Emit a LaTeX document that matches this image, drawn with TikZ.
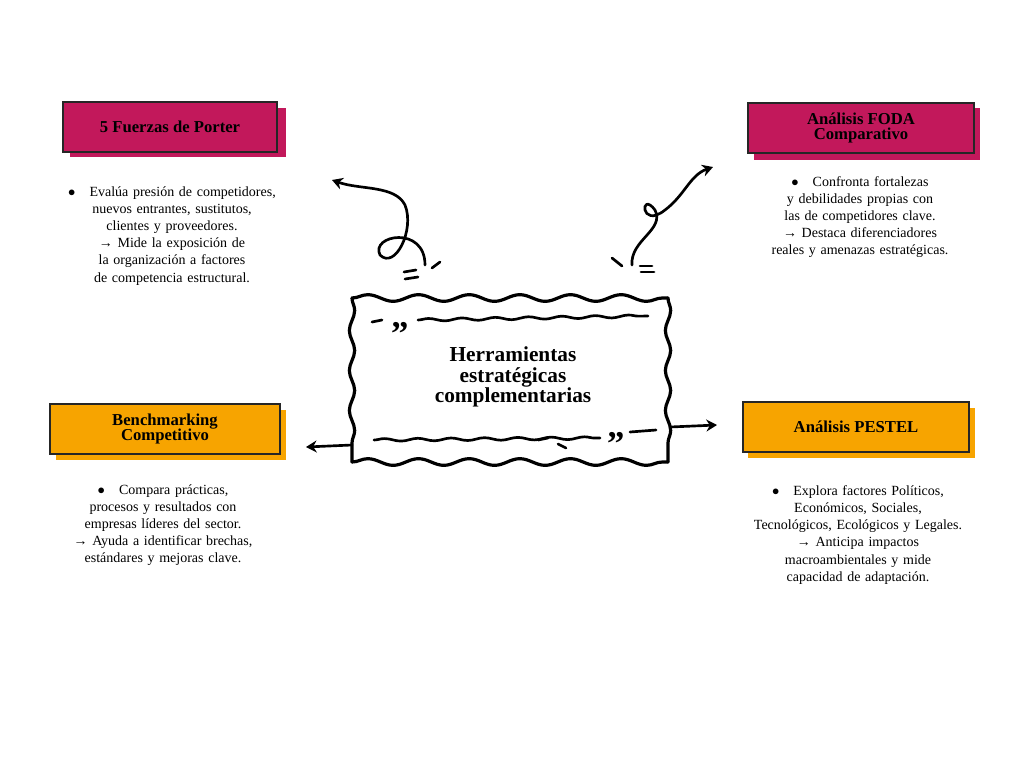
\documentclass[tikz,border=0pt]{standalone}
\usepackage{fontspec}
\setmainfont{Liberation Serif}
\usetikzlibrary{arrows.meta,decorations.pathmorphing}
\definecolor{crim}{HTML}{C2185B}
\definecolor{orng}{HTML}{F7A400}
\hyphenpenalty=10000
\exhyphenpenalty=10000
\tikzset{
 x=0.75pt,y=-0.75pt,
 lab/.style={draw=black!85,line width=1.6pt,minimum width=#1,minimum height=38pt,align=center,font=\fontsize{12.5}{11.5}\selectfont\bfseries},
 body/.style={align=center,font=\fontsize{10.5}{12.8}\selectfont,text width=165pt},
 arr/.style={line width=2pt,-{Stealth[length=8pt,width=9pt]},line cap=round},
 wig/.style={line width=2pt,line cap=round},
 wav/.style={line width=2.4pt,line cap=round,decorate,decoration={snake,amplitude=2.5pt,segment length=38pt}}
}
\begin{document}
\begin{tikzpicture}
\useasboundingbox (0,0) rectangle (1024,768);
% Porter
\fill[crim] (70,108) rectangle (286,157);
\node[lab=160pt,fill=crim] (p) at (170,127) {5 Fuerzas de Porter};
\node[body] (pt) at (172,236) {$\bullet$\quad Evalúa presión de competidores, nuevos entrantes, sustitutos, clientes y proveedores.\\ → Mide la exposición de la organización a factores de competencia estructural.};
% FODA
\fill[crim] (754,108) rectangle (980,160);
\node[lab=170pt,fill=crim] (f) at (861,128) {Análisis FODA\\Comparativo};
\node[body] (ft) at (860,217) {$\bullet$\quad Confronta fortalezas y debilidades propias con las de competidores clave.\\ → Destaca diferenciadores reales y amenazas estratégicas.};
% Benchmarking
\fill[orng] (56,410) rectangle (286,460);
\node[lab=172pt,fill=orng] (b) at (165,429) {Benchmarking\\Competitivo};
\node[body] (bt) at (163,525) {$\bullet$\quad Compara prácticas, procesos y resultados con empresas líderes del sector.\\ → Ayuda a identificar brechas, estándares y mejoras clave.};
% PESTEL
\fill[orng] (748,408) rectangle (975,458);
\node[lab=170pt,fill=orng] (e) at (856,427) {Análisis PESTEL};
\node[body] (et) at (858,535) {$\bullet$\quad Explora factores Políticos, Económicos, Sociales, Tecnológicos, Ecológicos y Legales.\\ → Anticipa impactos macroambientales y mide capacidad de adaptación.};
% center
\draw[wav] (352,298) -- (668,298);
\draw[wav] (352,462) -- (668,462);
\draw[wav,decoration={snake,amplitude=2pt,segment length=30pt}] (352,298) -- (352,462);
\draw[wav,decoration={snake,amplitude=2pt,segment length=30pt}] (668,298) -- (668,462);
\node[font=\fontsize{16}{15.5}\selectfont\bfseries,align=center] (c) at (513,377) {Herramientas\\estratégicas\\complementarias};
\draw[wig] (372,322) -- (382,320); \node[font=\fontsize{26}{26}\selectfont\bfseries] at (400,328) {,,};
\draw[wig,decorate,decoration={snake,amplitude=1pt,segment length=25pt}] (418,320) -- (648,316);
\draw[wig,decorate,decoration={snake,amplitude=1pt,segment length=25pt}] (374,440) -- (600,438);
\node[font=\fontsize{26}{26}\selectfont\bfseries] at (616,438) {,,};
\draw[wig] (630,432) -- (656,430);
% arrows
\coordinate (l1) at (352,445); \coordinate (l2) at (306,447);
\draw[arr] (l1) -- (l2);
\coordinate (r1) at (670,427); \coordinate (r2) at (717,425);
\draw[arr] (r1) -- (r2);
\coordinate (a1) at (425,265); \coordinate (a2) at (332,180);
\draw[arr] (a1) .. controls (425,225) and (370,235) .. (380,255) .. controls (395,270) and (415,230) .. (405,205) .. controls (395,185) and (360,190) .. (a2);
\coordinate (b1) at (632,265); \coordinate (b2) at (713,167);
\draw[arr] (b1) .. controls (630,240) and (665,230) .. (655,210) .. controls (640,190) and (640,230) .. (665,210) .. controls (685,195) and (690,175) .. (b2);
\draw[wig] (404,272)--(416,270); \draw[wig] (405,279)--(418,277); \draw[wig] (432,268)--(440,262);
\draw[wig] (612,258)--(622,266); \draw[wig] (640,266)--(652,266); \draw[wig] (641,272)--(654,272);
\draw[wig] (538,440)--(548,438); \draw[wig] (558,444)--(566,448);
\end{tikzpicture}
\end{document}
